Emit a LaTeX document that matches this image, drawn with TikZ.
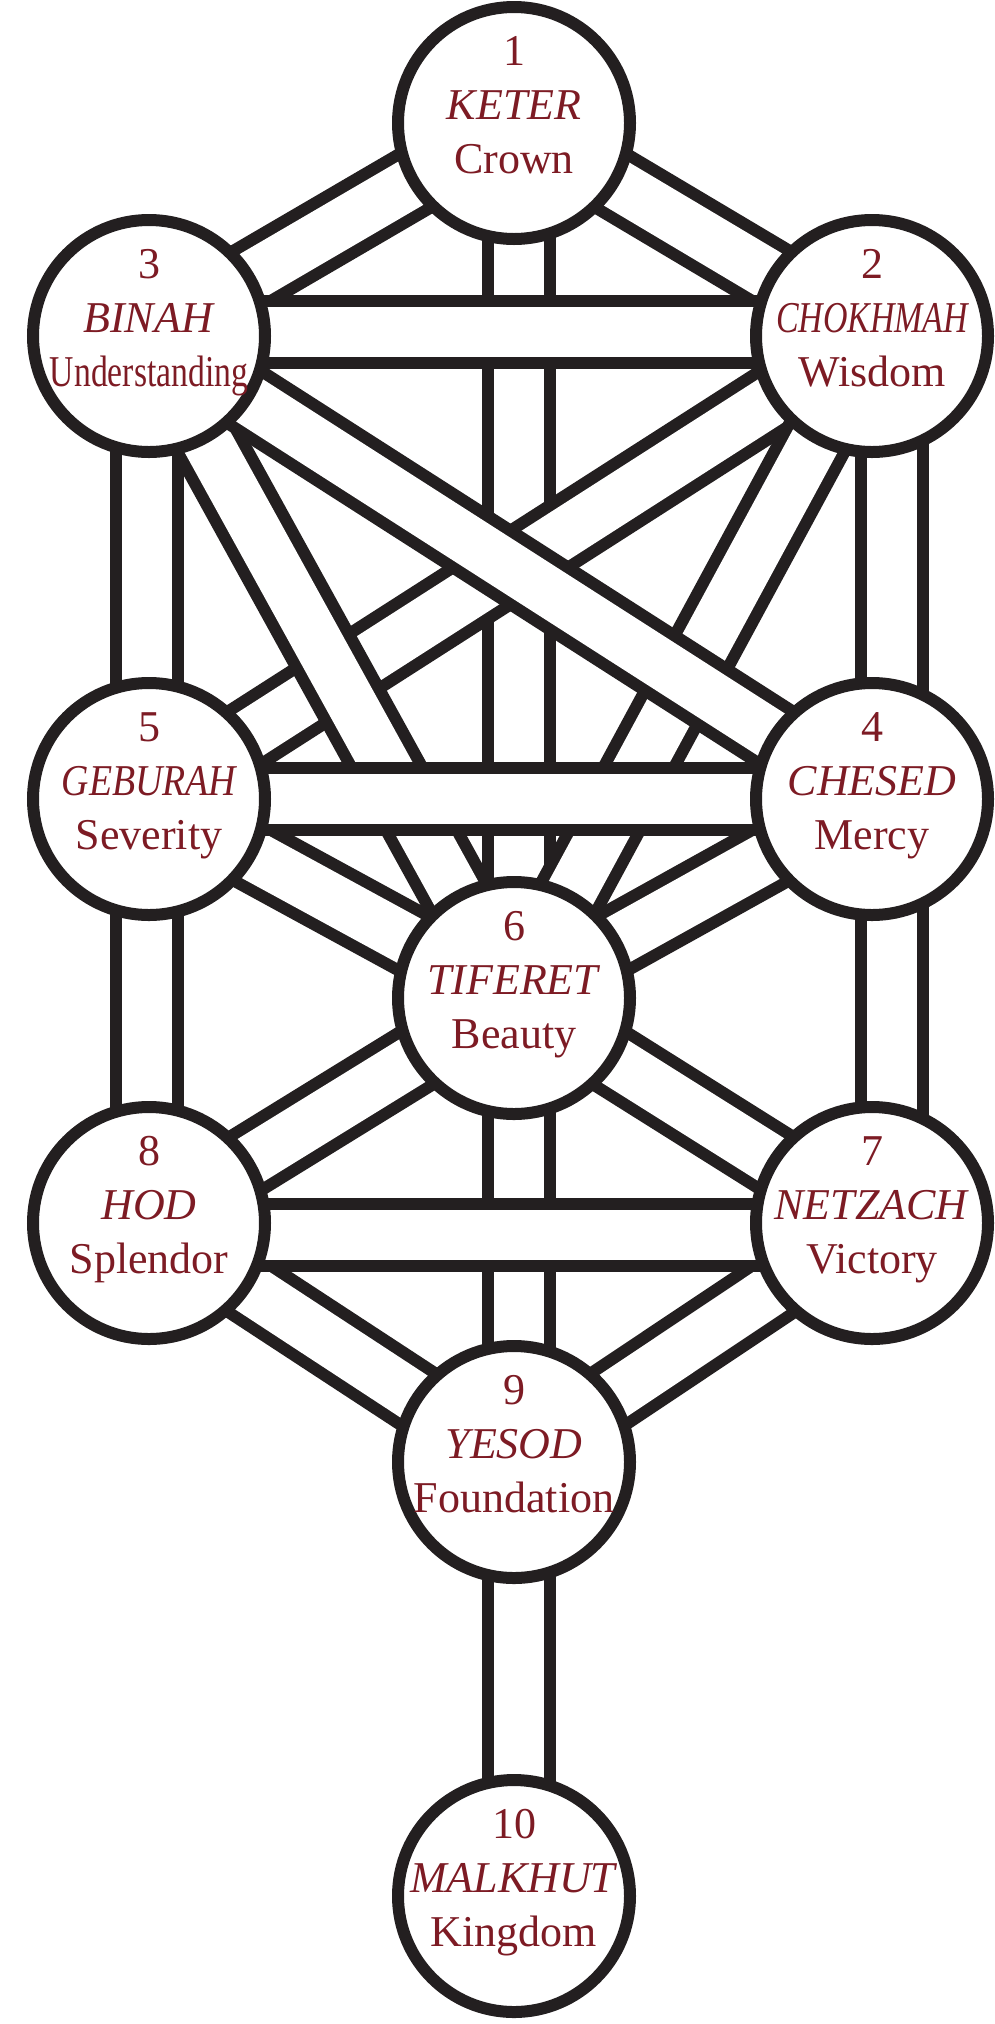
\documentclass[tikz,border=0pt]{standalone}
\usepackage{fontspec}
\setmainfont{Liberation Serif}
\usepackage{graphicx}
\usetikzlibrary{positioning,calc,backgrounds}

\definecolor{ink}{RGB}{35,31,32}
\definecolor{wine}{RGB}{125,27,36}

\tikzset{
  sefira/.style={circle, draw=ink, line width=12pt, fill=white, minimum size=232pt, inner sep=0pt},
  sefira text/.style={text=wine, align=center, inner sep=0pt, font=\fontsize{44}{54}\selectfont},
  path rim/.style={draw=ink, line width=74pt},
  path core/.style={draw=white, line width=50pt}
}
\newcommand{\sef}[3]{\strut#1\\\strut\textit{#2}\\\strut#3}

\begin{document}
\begin{tikzpicture}[x=1pt,y=-1pt]
    \useasboundingbox (0,0) rectangle (995,2024);

    % the ten spheres
    \node[sefira] (keter) at (514,123) {};
    \node[sefira] (chokhmah) at (872,336) {};
    \node[sefira] (binah) at (149,336) {};
    \node[sefira] (chesed) at (872,799) {};
    \node[sefira] (geburah) at (149,799) {};
    \node[sefira] (tiferet) at (514,998) {};
    \node[sefira] (netzach) at (872,1223) {};
    \node[sefira] (hod) at (149,1223) {};
    \node[sefira] (yesod) at (514,1462) {};
    \node[sefira] (malkhut) at (514,1896) {};

    \node[sefira text] (keter text) at ([yshift=14pt]keter.center) {\sef{1}{KETER}{Crown}};
    \node[sefira text] (chokhmah text) at ([yshift=14pt]chokhmah.center) {\sef{2}{\scalebox{0.77}[1]{CHOKHMAH}}{Wisdom}};
    \node[sefira text] (binah text) at ([yshift=14pt]binah.center) {\sef{3}{BINAH}{\scalebox{0.765}[1]{Understanding}}};
    \node[sefira text] (chesed text) at ([yshift=14pt]chesed.center) {\sef{4}{CHESED}{Mercy}};
    \node[sefira text] (geburah text) at ([yshift=14pt]geburah.center) {\sef{5}{\scalebox{0.86}[1]{GEBURAH}}{Severity}};
    \node[sefira text] (tiferet text) at ([yshift=14pt]tiferet.center) {\sef{6}{TIFERET}{Beauty}};
    \node[sefira text] (netzach text) at ([yshift=14pt]netzach.center) {\sef{7}{NETZACH}{Victory}};
    \node[sefira text] (hod text) at ([yshift=14pt]hod.center) {\sef{8}{HOD}{Splendor}};
    \node[sefira text] (yesod text) at ([yshift=14pt]yesod.center) {\sef{9}{YESOD}{Foundation}};
    \node[sefira text] (malkhut text) at ([yshift=14pt]malkhut.center) {\sef{10}{MALKHUT}{Kingdom}};

    % the paths, lowest first (dx/dy nudge a path off the centres)
    \begin{scope}[on background layer]
        \foreach \a/\b/\dx/\dy in {keter/tiferet/5/0, tiferet/yesod/5/0, chokhmah/geburah/0/0,
                                   binah/tiferet/0/0, chokhmah/tiferet/0/0, binah/chesed/0/0,
                                   keter/binah/0/0, keter/chokhmah/0/0, binah/chokhmah/0/4,
                                   binah/geburah/-2/0, chokhmah/chesed/20/0, geburah/tiferet/0/0,
                                   chesed/tiferet/0/0, geburah/chesed/0/0, geburah/hod/-2/0,
                                   chesed/netzach/20/0, tiferet/hod/0/0, tiferet/netzach/0/0,
                                   hod/yesod/0/0, netzach/yesod/0/0, hod/netzach/0/-12,
                                   yesod/malkhut/5/0}{
            \draw[path rim] ([xshift=\dx pt,yshift=\dy pt]\a.center) -- ([xshift=\dx pt,yshift=\dy pt]\b.center);
            \draw[path core] ([xshift=\dx pt,yshift=\dy pt]\a.center) -- ([xshift=\dx pt,yshift=\dy pt]\b.center);
        }
    \end{scope}
\end{tikzpicture}
\end{document}
